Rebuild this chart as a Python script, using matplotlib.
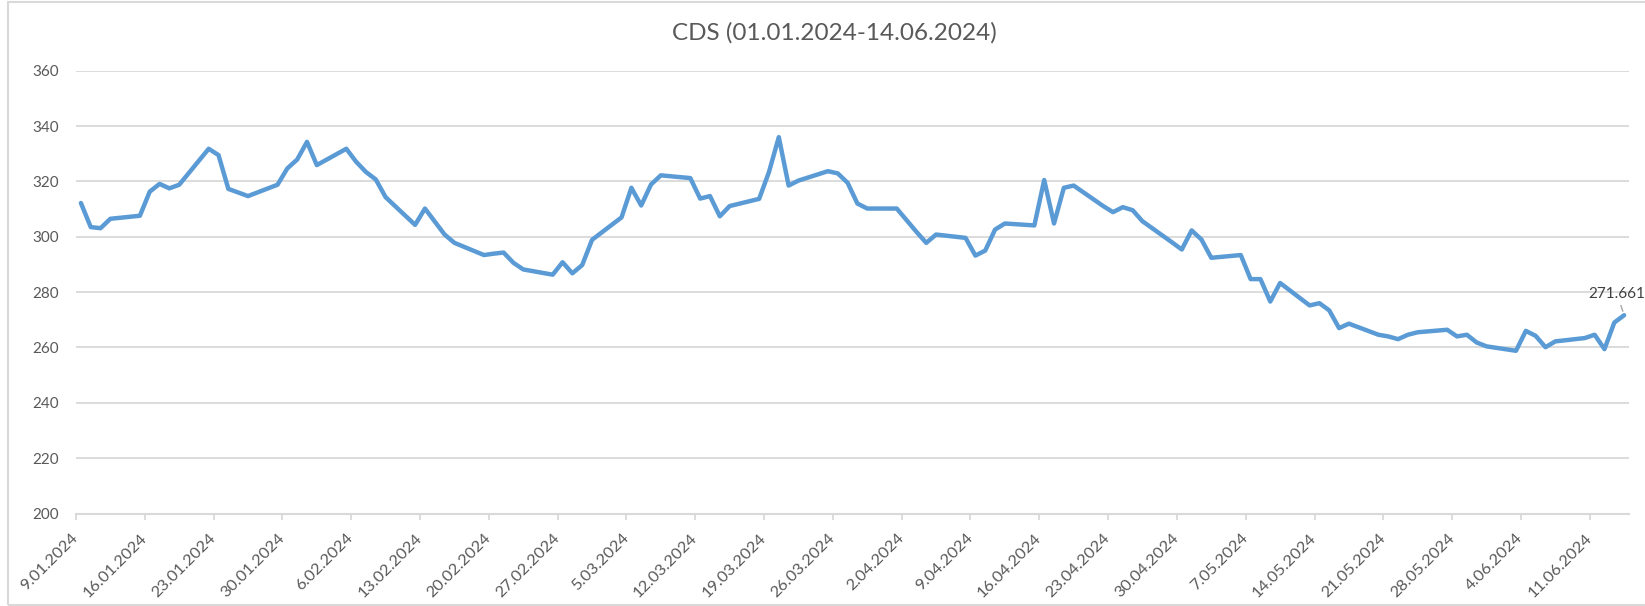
import matplotlib
matplotlib.use("Agg")
import matplotlib.pyplot as plt
import matplotlib.transforms as mtransforms
from matplotlib.patches import Rectangle
import pandas as pd

plt.rcParams['font.family'] = ['Lato', 'DejaVu Sans']

# Daily CDS values (trading days)
dates = [
    "09.01.2024", "10.01.2024", "11.01.2024", "12.01.2024", "15.01.2024",
    "16.01.2024", "17.01.2024", "18.01.2024", "19.01.2024", "22.01.2024",
    "23.01.2024", "24.01.2024", "25.01.2024", "26.01.2024", "29.01.2024",
    "30.01.2024", "31.01.2024", "01.02.2024", "02.02.2024", "05.02.2024",
    "06.02.2024", "07.02.2024", "08.02.2024", "09.02.2024", "12.02.2024",
    "13.02.2024", "14.02.2024", "15.02.2024", "16.02.2024", "19.02.2024",
    "20.02.2024", "21.02.2024", "22.02.2024", "23.02.2024", "26.02.2024",
    "27.02.2024", "28.02.2024", "29.02.2024", "01.03.2024", "04.03.2024",
    "05.03.2024", "06.03.2024", "07.03.2024", "08.03.2024", "11.03.2024",
    "12.03.2024", "13.03.2024", "14.03.2024", "15.03.2024", "18.03.2024",
    "19.03.2024", "20.03.2024", "21.03.2024", "22.03.2024", "25.03.2024",
    "26.03.2024", "27.03.2024", "28.03.2024", "29.03.2024", "01.04.2024",
    "02.04.2024", "03.04.2024", "04.04.2024", "05.04.2024", "08.04.2024",
    "09.04.2024", "10.04.2024", "11.04.2024", "12.04.2024", "15.04.2024",
    "16.04.2024", "17.04.2024", "18.04.2024", "19.04.2024", "22.04.2024",
    "23.04.2024", "24.04.2024", "25.04.2024", "26.04.2024", "29.04.2024",
    "30.04.2024", "01.05.2024", "02.05.2024", "03.05.2024", "06.05.2024",
    "07.05.2024", "08.05.2024", "09.05.2024", "10.05.2024", "13.05.2024",
    "14.05.2024", "15.05.2024", "16.05.2024", "17.05.2024", "20.05.2024",
    "21.05.2024", "22.05.2024", "23.05.2024", "24.05.2024", "27.05.2024",
    "28.05.2024", "29.05.2024", "30.05.2024", "31.05.2024", "03.06.2024",
    "04.06.2024", "05.06.2024", "06.06.2024", "07.06.2024", "10.06.2024",
    "11.06.2024", "12.06.2024", "13.06.2024", "14.06.2024",
]
cds = [
    312.2, 303.5, 303.1, 306.5, 307.6,
    316.3, 319.1, 317.5, 318.8, 331.8,
    329.5, 317.3, 316.0, 314.7, 318.8,
    324.7, 327.9, 334.3, 325.9, 331.8,
    327.1, 323.4, 320.7, 314.3, 304.3,
    310.2, 305.5, 300.8, 297.8, 293.4,
    293.9, 294.3, 290.6, 288.2, 286.3,
    290.8, 286.8, 289.8, 298.9, 307.0,
    317.7, 311.3, 318.9, 322.2, 321.2,
    313.8, 314.7, 307.4, 311.1, 313.7,
    323.4, 336.0, 318.5, 320.3, 323.7,
    322.9, 319.5, 312.0, 310.2, 310.2,
    306.0, 301.8, 297.8, 300.8, 299.6,
    293.2, 295.0, 302.6, 304.8, 304.1,
    320.5, 304.8, 317.7, 318.5, 311.1,
    308.9, 310.7, 309.6, 305.6, 298.0,
    295.4, 302.3, 299.0, 292.4, 293.4,
    284.7, 284.7, 276.6, 283.3, 275.2,
    276.0, 273.4, 267.0, 268.6, 264.6,
    264.0, 263.0, 264.6, 265.5, 266.4,
    264.0, 264.6, 261.8, 260.4, 258.8,
    266.0, 264.2, 260.1, 262.2, 263.4,
    264.6, 259.4, 269.0, 271.661,
]

title = "CDS (01.01.2024-14.06.2024)"
axis_start = "09.01.2024"
axis_end = "15.06.2024"
last_tick = "11.06.2024"
y_ticks = [200, 220, 240, 260, 280, 300, 320, 340, 360]

line_color = '#5B9BD5'
grid_color = '#D9D9D9'
text_color = '#595959'

fig = plt.figure(figsize=(16.45, 6.06), dpi=100)
ax = fig.add_axes([0.0462, 0.1526, 0.9441, 0.7307])

# points sit in the middle of their day slot, like an Excel date axis
x = pd.to_datetime(dates, format="%d.%m.%Y") + pd.Timedelta(hours=12)
ax.plot(x, cds, color=line_color, lw=3.2, solid_joinstyle='round', solid_capstyle='round', zorder=3)

x0 = pd.to_datetime(axis_start, format="%d.%m.%Y")
x1 = pd.to_datetime(axis_end, format="%d.%m.%Y")
ax.set_xlim(x0, x1)
ax.set_ylim(y_ticks[0], y_ticks[-1])
ax.set_yticks(y_ticks)
ax.grid(axis='y', color=grid_color, lw=1.3)
ax.set_axisbelow(True)

ticks = pd.date_range(x0, pd.to_datetime(last_tick, format="%d.%m.%Y"), freq='7D')
ax.set_xticks(ticks)
ax.set_xticklabels([f"{d.day}.{d.month:02d}.{d.year}" for d in ticks],
                   rotation=45, ha='right', va='center', rotation_mode='anchor')
shift = mtransforms.ScaledTranslation(8.5 / 72, 0, fig.dpi_scale_trans)
for lab in ax.get_xticklabels():
    lab.set_transform(lab.get_transform() + shift)

for side in ['top', 'right', 'left']:
    ax.spines[side].set_visible(False)
ax.spines['bottom'].set_color(grid_color)
ax.spines['bottom'].set_linewidth(1.5)
ax.tick_params(axis='x', length=4, width=1.3, color=grid_color, pad=12,
               labelsize=11.8, labelcolor=text_color)
ax.tick_params(axis='y', length=0, pad=12, labelsize=11, labelcolor=text_color)

# label on the last point
ax.annotate(f"{cds[-1]:.3f}", xy=(x[-1], cds[-1]), xytext=(-5, 15),
            textcoords='offset points', ha='center', va='center',
            fontsize=11, color='#404040',
            arrowprops=dict(arrowstyle='-', color='#A6A6A6', lw=1, shrinkA=1, shrinkB=3),
            annotation_clip=False)

fig.text(834.7 / 1645, 1 - 33 / 606, title, ha='center', va='center',
         fontsize=17.5, color=text_color)

# chart border
fig.add_artist(Rectangle((7.5 / 1645, 1.5 / 606), 1.0, 603 / 606, transform=fig.transFigure,
                         fill=False, edgecolor=grid_color, lw=1.5))

fig.savefig("out.png", dpi=100)
